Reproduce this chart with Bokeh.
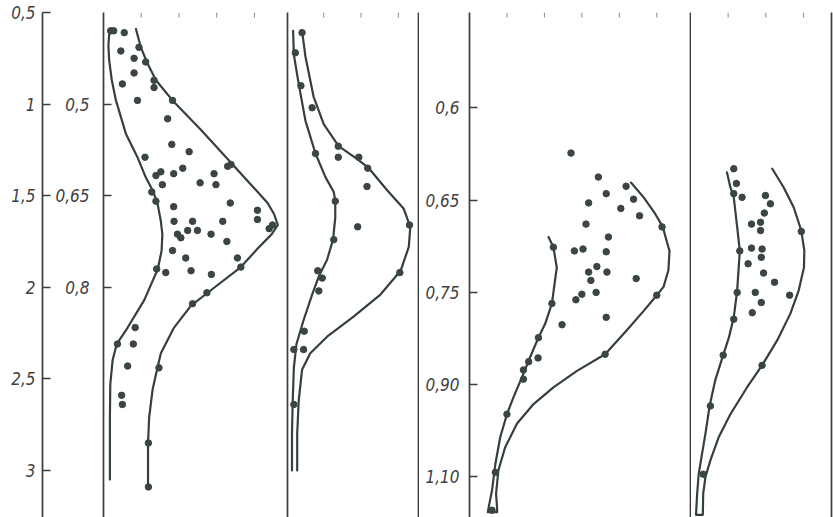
import math
from bokeh.plotting import figure
from bokeh.models import Range1d, LinearAxis, FixedTicker, CustomJSTickFormatter
from bokeh.layouts import row
from bokeh.embed import file_html
from bokeh.resources import INLINE

# ---------------- data ----------------
# left scale (depth-like) and its tick labels
depth_ticks = [0.5, 1, 1.5, 2, 2.5, 3]
# second scale of panels 1-2: its values and where they sit on the depth scale
b_ticks = [0.5, 0.65, 0.8]
b_at_depth = [1.0, 1.5, 2.0]
# scale of panels 3-4 (uneven values at even steps)
c_positions = [0, 1, 2, 3, 4]
c_labels = ["0,6", "0,65", "0,75", "0,90", "1,10"]

# top ticks of each panel
p1_top = [1, 2, 3, 4]
p2_top = [1, 2, 3]
p3_top = [1, 2, 3, 4, 5]
p4_top = [1, 2, 3]

# panel 1
p1_inner_x = [0.26, 0.15, 0.13, 0.15, 0.22, 0.33, 0.59, 0.90, 1.12, 1.30, 1.43, 1.52, 1.56, 1.54, 1.44,
              1.25, 1.08, 0.64, 0.35, 0.24, 0.18, 0.17, 0.17]
p1_inner_d = [0.59, 0.62, 0.68, 0.76, 0.87, 0.98, 1.16, 1.29, 1.40, 1.47, 1.54, 1.64, 1.71, 1.80, 1.90,
              1.99, 2.07, 2.22, 2.31, 2.40, 2.53, 2.71, 3.05]
p1_outer_x = [0.86, 0.99, 1.17, 1.39, 1.83, 2.58, 3.38, 3.91, 4.35, 4.52, 4.62, 4.46, 4.08, 3.64, 2.76,
              2.32, 1.87, 1.52, 1.43, 1.30, 1.21, 1.18, 1.18]
p1_outer_d = [0.59, 0.69, 0.78, 0.87, 0.98, 1.14, 1.32, 1.44, 1.54, 1.60, 1.66, 1.71, 1.79, 1.89, 2.03,
              2.10, 2.22, 2.36, 2.44, 2.56, 2.71, 2.85, 3.09]
p1_pts_x = [0.19, 0.27, 0.55, 0.46, 0.81, 0.94, 1.12, 0.81, 0.50, 1.34, 1.34, 0.90, 1.83, 1.70, 1.81,
            2.27, 1.10, 1.52, 1.39, 1.86, 2.10, 1.56, 2.93, 3.29, 3.38, 2.56, 2.98, 1.28, 1.39, 3.36,
            1.86, 4.08, 4.08, 1.87, 2.36, 3.16, 4.48, 4.39, 1.96, 2.05, 2.23, 2.49, 2.85, 3.27, 1.83,
            2.18, 3.55, 1.41, 1.65, 2.32, 2.86, 3.64, 2.74, 2.36, 0.84, 0.37, 0.79, 0.64, 0.48, 0.50,
            1.47, 1.19, 1.19]
p1_pts_d = [0.60, 0.60, 0.61, 0.71, 0.75, 0.69, 0.77, 0.83, 0.89, 0.87, 0.91, 0.98, 0.98, 1.08, 1.22,
            1.26, 1.29, 1.37, 1.39, 1.38, 1.35, 1.44, 1.38, 1.34, 1.33, 1.43, 1.44, 1.48, 1.53, 1.54,
            1.56, 1.58, 1.63, 1.64, 1.64, 1.64, 1.66, 1.68, 1.71, 1.73, 1.69, 1.69, 1.71, 1.75, 1.80,
            1.84, 1.84, 1.90, 1.92, 1.91, 1.93, 1.89, 2.03, 2.09, 2.22, 2.31, 2.31, 2.43, 2.59, 2.64,
            2.44, 2.85, 3.09]

# panel 2
p2_inner_x = [0.18, 0.20, 0.33, 0.51, 0.78, 1.05, 1.27, 1.31, 1.31, 1.25, 1.09, 0.87, 0.69, 0.46, 0.27,
              0.20, 0.17, 0.15, 0.15]
p2_inner_d = [0.60, 0.73, 0.89, 1.09, 1.27, 1.40, 1.48, 1.53, 1.62, 1.74, 1.85, 1.94, 2.04, 2.18, 2.31,
              2.44, 2.62, 2.80, 3.00]
p2_outer_x = [0.42, 0.51, 0.73, 1.00, 1.40, 1.90, 2.21, 2.70, 3.14, 3.32, 3.28, 3.06, 2.52, 1.80, 1.09,
              0.64, 0.42, 0.33, 0.29, 0.29]
p2_outer_d = [0.60, 0.74, 0.96, 1.11, 1.23, 1.30, 1.35, 1.47, 1.57, 1.67, 1.78, 1.91, 2.04, 2.16, 2.27,
              2.36, 2.45, 2.62, 2.80, 3.00]
p2_pts_x = [0.42, 0.24, 0.39, 0.69, 0.78, 1.39, 1.39, 1.94, 2.18, 2.16, 1.31, 1.91, 3.30, 1.27, 3.04,
            0.84, 0.96, 0.87, 0.48, 0.20, 0.46, 0.20]
p2_pts_d = [0.61, 0.72, 0.90, 1.02, 1.27, 1.23, 1.29, 1.29, 1.35, 1.45, 1.53, 1.67, 1.66, 1.74, 1.92,
            1.91, 1.95, 2.02, 2.24, 2.34, 2.34, 2.64]

# panel 3 (envelope: inner branch downwards, then outer branch upwards)
p3_env_x = [2.11, 2.24, 2.33, 2.26, 2.20, 2.02, 1.84, 1.62, 1.40, 1.17, 1.00, 0.82, 0.69, 0.60, 0.52,
            0.49, 0.74, 0.73, 0.71, 0.77, 0.95, 1.27, 1.71, 2.24, 2.87, 3.62, 4.20, 4.65, 5.00, 5.18,
            5.31, 5.34, 5.31, 5.16, 4.96, 4.65, 4.31]
p3_env_c = [1.40, 1.51, 1.73, 1.94, 2.12, 2.34, 2.49, 2.70, 2.92, 3.14, 3.32, 3.57, 3.86, 4.15, 4.31,
            4.38, 4.38, 4.30, 4.18, 3.93, 3.68, 3.42, 3.21, 3.03, 2.85, 2.67, 2.41, 2.20, 2.03, 1.94,
            1.76, 1.55, 1.51, 1.29, 1.15, 0.97, 0.81]
p3_pts_x = [2.71, 3.44, 3.65, 4.18, 3.18, 4.04, 4.38, 4.54, 3.11, 3.71, 2.80, 3.03, 3.65, 3.40, 3.18,
            3.67, 3.24, 4.45, 3.00, 2.84, 3.38, 3.65, 2.47, 5.14, 5.00, 2.24, 2.20, 1.84, 1.83, 1.58,
            1.44, 1.44, 3.62, 1.00, 0.69, 0.60]
p3_pts_c = [0.49, 0.75, 0.93, 0.85, 1.03, 1.09, 0.99, 1.17, 1.26, 1.40, 1.55, 1.53, 1.56, 1.72, 1.78,
            1.78, 1.87, 1.85, 2.02, 2.08, 2.00, 2.27, 2.35, 1.29, 2.03, 1.51, 2.12, 2.49, 2.71, 2.75,
            2.84, 2.94, 2.67, 3.32, 3.95, 4.36]

# panel 4 (envelope: inner branch downwards, then outer branch upwards)
p4_env_x = [0.97, 1.06, 1.15, 1.24, 1.31, 1.24, 1.15, 1.02, 0.87, 0.66, 0.51, 0.40, 0.28, 0.22, 0.18,
            0.15, 0.33, 0.34, 0.40, 0.53, 0.75, 1.06, 1.50, 1.90, 2.30, 2.65, 2.87, 3.01, 3.02, 2.94,
            2.74, 2.47, 2.17]
p4_env_c = [0.70, 0.86, 0.97, 1.29, 1.55, 1.98, 2.27, 2.49, 2.68, 2.95, 3.23, 3.53, 3.82, 3.97, 4.18,
            4.41, 4.41, 4.18, 4.00, 3.82, 3.57, 3.32, 3.03, 2.79, 2.52, 2.23, 1.98, 1.73, 1.55, 1.33,
            1.08, 0.86, 0.66]
p4_pts_x = [1.15, 1.22, 1.15, 1.37, 1.99, 2.12, 1.96, 1.62, 1.86, 1.86, 1.31, 1.62, 1.90, 1.88, 1.53,
            1.94, 2.23, 1.24, 1.72, 2.63, 1.88, 1.64, 1.15, 2.94, 0.87, 1.90, 0.53, 0.34]
p4_pts_c = [0.66, 0.82, 0.93, 0.97, 0.95, 1.04, 1.14, 1.26, 1.24, 1.33, 1.55, 1.52, 1.53, 1.62, 1.69,
            1.79, 1.89, 2.00, 2.00, 2.03, 2.11, 2.22, 2.29, 1.34, 2.68, 2.79, 3.23, 3.97]

# ---------------- styling ----------------
FONT = "DejaVu Sans Condensed, Liberation Sans Narrow, Liberation Sans, sans-serif"
LINE_C = "#34413a"
DOT_C = "#3a463e"
AX_C = "#3c3c3c"
LAB_C = "#404040"
TICK_C = "#8a8a8a"
H = 517
TOP = 12

depth_range = (3.257, 0.5)      # bottom, top
c_range = (4.439, -1.033)       # bottom, top

comma_fmt = CustomJSTickFormatter(code="return tick.toString().replace('.', ',')")


def make_fig(width, xr, yr, left=0, right=0):
    p = figure(width=width, height=H, x_range=Range1d(*xr), y_range=Range1d(*yr),
               output_backend="svg", toolbar_location=None,
               x_axis_location=None, y_axis_location=None,
               min_border_left=left, min_border_right=right,
               min_border_top=TOP, min_border_bottom=0)
    p.outline_line_color = None
    p.background_fill_color = "white"
    p.border_fill_color = "white"
    p.grid.visible = False
    return p


def line_axis(p, side):
    ax = LinearAxis(ticker=FixedTicker(ticks=[]), major_tick_in=0, major_tick_out=0,
                    minor_tick_in=0, minor_tick_out=0, major_label_standoff=0,
                    axis_line_color=AX_C, axis_line_width=1.7)
    p.add_layout(ax, side)


def top_ticks(p, ticks, top):
    # short tick marks hanging from the top edge of the panel
    p.ray(x=ticks, y=[top] * len(ticks), length=5, length_units="screen",
          angle=-math.pi / 2, line_color=TICK_C, line_width=1)


def label_axis(ticks, standoff, **kw):
    return LinearAxis(ticker=FixedTicker(ticks=ticks), major_tick_in=8, major_tick_out=0,
                      minor_tick_in=0, minor_tick_out=0, major_label_standoff=standoff,
                      major_label_text_font=FONT, major_label_text_font_style="italic",
                      major_label_text_font_size="17px", major_label_text_color=LAB_C,
                      axis_line_color=AX_C, axis_line_width=1.7,
                      major_tick_line_color=AX_C, major_tick_line_width=1.4, **kw)


def draw_line(p, xs, ys):
    p.line(xs, ys, line_color=LINE_C, line_width=2.2, line_join="round", line_cap="round")


def draw_pts(p, xs, ys):
    p.scatter(xs, ys, size=6.5, fill_color=DOT_C, line_color=DOT_C)


# figure 0: left scale only
f0 = make_fig(52, (0, 1), depth_range, left=42)
a0 = label_axis(depth_ticks, 7, formatter=comma_fmt)
f0.add_layout(a0, "left")

# figure 1: panel 1 with second scale
f1 = make_fig(234, (0, 4.85), depth_range, left=51)
slope = (b_ticks[-1] - b_ticks[0]) / (b_at_depth[-1] - b_at_depth[0])
b_lo = b_ticks[0] + (depth_range[0] - b_at_depth[0]) * slope
b_hi = b_ticks[0] + (depth_range[1] - b_at_depth[0]) * slope
f1.extra_y_ranges = {"b": Range1d(b_lo, b_hi)}
a1 = label_axis(b_ticks, 14, formatter=comma_fmt, y_range_name="b")
f1.add_layout(a1, "left")
top_ticks(f1, p1_top, depth_range[1])
draw_line(f1, p1_inner_x, p1_inner_d)
draw_line(f1, p1_outer_x, p1_outer_d)
draw_pts(f1, p1_pts_x, p1_pts_d)

# figure 2: panel 2
f2 = make_fig(133, (0.03, 3.54), depth_range, left=1, right=1)
line_axis(f2, "left")
line_axis(f2, "right")
top_ticks(f2, p2_top, depth_range[1])
draw_line(f2, p2_inner_x, p2_inner_d)
draw_line(f2, p2_outer_x, p2_outer_d)
draw_pts(f2, p2_pts_x, p2_pts_d)

# figure 3: panel 3 with third scale
f3 = make_fig(272, (0, 5.90), c_range, left=50, right=1)
a3 = label_axis(c_positions, 10)
a3.major_label_overrides = {pos: lab for pos, lab in zip(c_positions, c_labels)}
f3.add_layout(a3, "left")
line_axis(f3, "right")
top_ticks(f3, p3_top, c_range[1])
draw_line(f3, p3_env_x, p3_env_c)
draw_pts(f3, p3_pts_x, p3_pts_c)

# figure 4: panel 4
f4 = make_fig(142, (0.03, 3.74), c_range, right=2)
line_axis(f4, "right")
top_ticks(f4, p4_top, c_range[1])
draw_line(f4, p4_env_x, p4_env_c)
draw_pts(f4, p4_pts_x, p4_pts_c)

layout = row(f0, f1, f2, f3, f4, spacing=0)
open("out.html", "w").write(file_html(layout, INLINE))
